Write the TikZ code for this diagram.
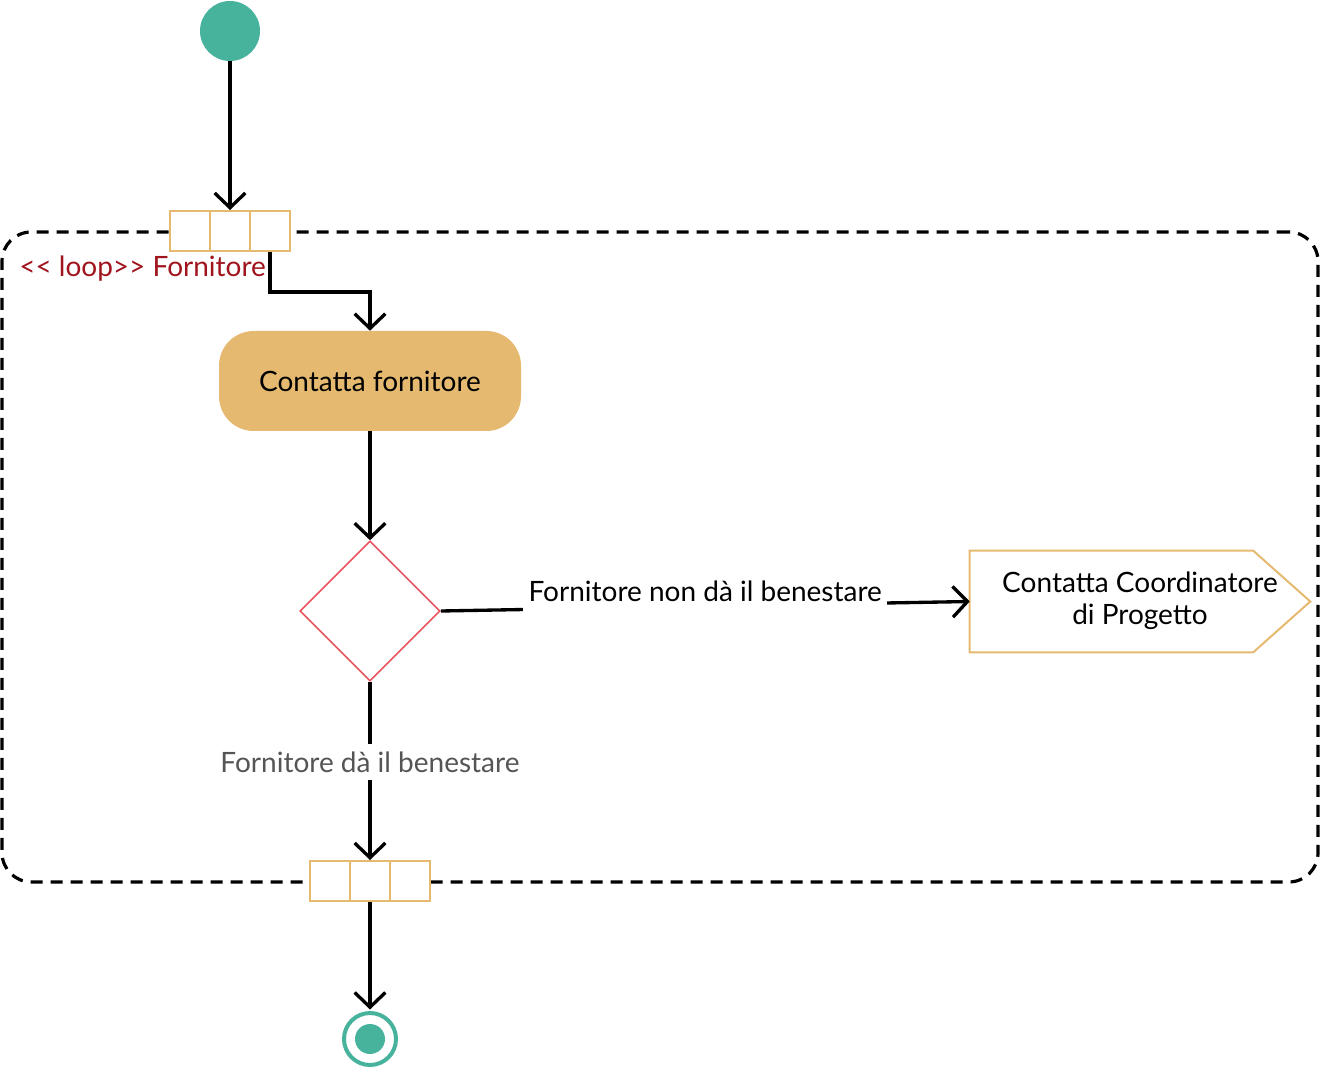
\documentclass[tikz,border=0pt]{standalone}
\usepackage{fontspec}
\setmainfont{Lato}
\usetikzlibrary{arrows.meta,shapes.geometric,calc}
\definecolor{teal}{HTML}{47B39D}
\definecolor{gold}{HTML}{E5BA70}
\definecolor{decred}{HTML}{E8555E}
\definecolor{loopred}{HTML}{A0141E}
\definecolor{lblgray}{HTML}{555555}
\tikzset{
  conn/.style={line width=2.5pt, -{Straight Barb[length=11pt,width=23pt,line width=2.5pt]}},
  pinbox/.style={draw=gold, line width=1.5pt, fill=white, minimum width=30pt, minimum height=30pt, inner sep=0pt},
  txt/.style={font=\fontsize{21}{25}\selectfont},
}
\begin{document}
\begin{tikzpicture}[x=0.75pt,y=-0.75pt]
\useasboundingbox (0,0) rectangle (1320,1069);
% loop frame
\node[draw, line width=2.4pt, dash pattern=on 9pt off 6pt, rounded corners=22pt,
      minimum width=987pt, minimum height=487.5pt, inner sep=0pt] (frame) at (660,557) {};
\node[txt, text=loopred, anchor=west, inner sep=0pt] (looplbl) at (19,269) {<\kern0pt< loop>\kern0pt> Fornitore};
% start
\node[circle, fill=teal, minimum size=45pt, inner sep=0pt] (start) at (230,31) {};
% top pin
\node[pinbox] (p1a) at (190,231) {};
\node[pinbox] (p1b) at (230,231) {};
\node[pinbox] (p1c) at (270,231) {};
% action
\node[txt, fill=gold, rounded corners=26pt, minimum width=226.5pt, minimum height=75pt] (act) at (370,381) {Contatta fornitore};
% decision
\node[diamond, draw=decred, line width=1.2pt, minimum width=105pt, minimum height=105pt, inner sep=0pt] (dec) at (370,611) {};
% send signal
\node[txt, align=center, minimum width=255pt, minimum height=75.75pt, inner sep=0pt] (sig) at (1140,601.5) {\raisebox{-3pt}{\begin{tabular}{@{}c@{}}Contatta Coordinatore\\[-1pt]di Progetto\end{tabular}}};
\draw[gold, line width=1.5pt] (sig.north west) -- ($(sig.north east)+(-57,0)$) -- (sig.east) -- ($(sig.south east)+(-57,0)$) -- (sig.south west) -- cycle;
% bottom pin
\node[pinbox] (p2a) at (330,881) {};
\node[pinbox] (p2b) at (370,881) {};
\node[pinbox] (p2c) at (410,881) {};
% final
\node[circle, draw=teal, line width=3pt, fill=white, minimum size=39pt, inner sep=0pt] (fin) at (370,1039) {};
\node[circle, fill=teal, minimum size=22.5pt, inner sep=0pt] (finin) at (370,1039) {};
% connectors
\draw[conn] (start.south) -- (p1b.north);
\draw[conn] (p1c.south) -- ++(0,40) -| (act.north);
\draw[conn] (act.south) -- (dec.north);
\draw[conn] (dec.east) -- node[txt, fill=white, inner xsep=4pt, inner ysep=11pt, yshift=11pt] {Fornitore non dà il benestare} (sig.west);
\draw[conn] (dec.south) -- node[txt, fill=white, text=lblgray, inner xsep=3pt, inner ysep=6pt, pos=0.45] {Fornitore dà il benestare} (p2b.north);
\draw[conn] (p2b.south) -- ($(fin.north)+(0,-1.5)$);
\end{tikzpicture}
\end{document}
